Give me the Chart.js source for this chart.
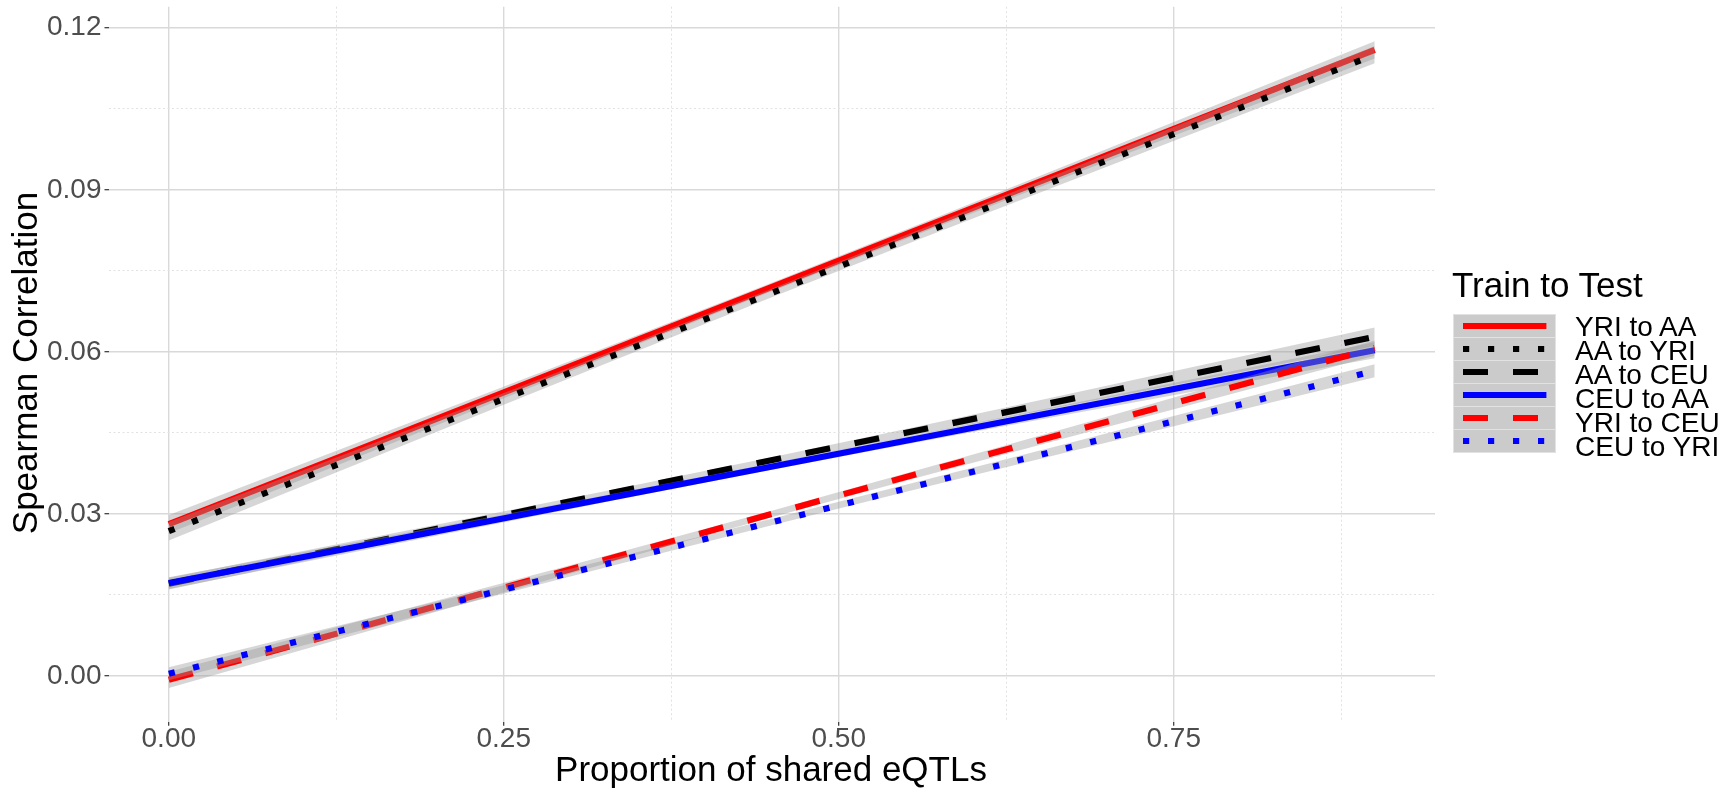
<!DOCTYPE html>
<html><head><meta charset="utf-8">
<script src="https://cdn.jsdelivr.net/npm/chart.js@4.4.1/dist/chart.umd.min.js"></script>
<style>
html,body{margin:0;padding:0;background:#fff;}
#wrap{position:relative;width:1726px;height:788px;overflow:hidden;font-family:"Liberation Sans",Arial,Helvetica,sans-serif;}
#c{position:absolute;left:0;top:0;}
.ttl{position:absolute;font-size:35px;line-height:40px;height:40px;white-space:nowrap;color:#000;}
#xt{left:471px;width:600px;top:749px;text-align:center;}
#yt{left:-225px;width:500px;top:343px;text-align:center;transform:rotate(-90deg);}
#lt{left:1452px;top:265px;}
#keys{position:absolute;left:1453px;top:315px;width:103px;}
.key{width:103px;height:24px;background:#cbcbcb;box-sizing:border-box;border:1px solid #e2e2e2;margin-top:-1px;}
.key svg{display:block;margin:-1px 0 0 -1px;}
#labs{position:absolute;left:1575px;top:315px;font-size:28px;line-height:24px;color:#000;}
#labs div{height:24px;white-space:nowrap;}
</style>
</head><body>
<div id="wrap">
<canvas id="c" width="1726" height="788"></canvas>
<div class="ttl" id="xt">Proportion of shared eQTLs</div>
<div class="ttl" id="yt">Spearman Correlation</div>
<div class="ttl" id="lt">Train to Test</div>
<div id="keys"></div>
<div id="labs"></div>
</div>
<script>
// ---- data ----
const seriesNames = ["YRI to AA", "AA to YRI", "AA to CEU", "CEU to AA", "YRI to CEU", "CEU to YRI"];
const lineX = [0, 0.9];
const bandX = [0, 0.45, 0.9];
const yriToAA  = [0.0281, 0.1159];
const aaToYRI  = [0.0268, 0.1150];
const aaToCEU  = [0.0171, 0.0628];
const ceuToAA  = [0.0172, 0.0603];
const yriToCEU = [-0.0007, 0.0607];
const ceuToYRI = [0.0004, 0.0565];
// confidence bands (lower / upper) at bandX
const yriToAALow   = [0.0264, 0.0712, 0.1143];
const yriToAAHigh  = [0.0298, 0.0728, 0.1175];
const aaToYRILow   = [0.0251, 0.0701, 0.1134];
const aaToYRIHigh  = [0.0285, 0.0717, 0.1166];
const aaToCEULow   = [0.0160, 0.0393, 0.0611];
const aaToCEUHigh  = [0.0182, 0.0405, 0.0645];
const ceuToAALow   = [0.0161, 0.0382, 0.0588];
const ceuToAAHigh  = [0.0183, 0.0394, 0.0618];
const yriToCEULow  = [-0.0022, 0.0294, 0.0593];
const yriToCEUHigh = [0.0008, 0.0306, 0.0621];
const ceuToYRILow  = [-0.0008, 0.0279, 0.0553];
const ceuToYRIHigh = [0.0016, 0.0291, 0.0577];
// ticks
const xTicks = [0, 0.125, 0.25, 0.375, 0.5, 0.625, 0.75, 0.875];
const xTickLabels = ["0.00", "", "0.25", "", "0.50", "", "0.75", ""];
const yTicks = [0, 0.015, 0.03, 0.045, 0.06, 0.075, 0.09, 0.105, 0.12];
const yTickLabels = ["0.00", "", "0.03", "", "0.06", "", "0.09", "", "0.12"];
const xRange = [-0.045, 0.945];
const yRange = [-0.00846, 0.12389];

// ---- styles ----
const seriesValues = [yriToAA, aaToYRI, aaToCEU, ceuToAA, yriToCEU, ceuToYRI];
const seriesLow = [yriToAALow, aaToYRILow, aaToCEULow, ceuToAALow, yriToCEULow, ceuToYRILow];
const seriesHigh = [yriToAAHigh, aaToYRIHigh, aaToCEUHigh, ceuToAAHigh, yriToCEUHigh, ceuToYRIHigh];
const seriesColors = ["#ff0000", "#000000", "#000000", "#0000ff", "#ff0000", "#0000ff"];
const LW = 6.2;
const DASHED = [25, 25];
const DOTTED = [6.2, 18.8];
const seriesDash = [[], DOTTED, DASHED, [], DASHED, DOTTED];
const ribbon = "rgba(153,153,153,0.4)";
const FONT = '"Liberation Sans", Arial, Helvetica, sans-serif';

const datasets = [];
seriesNames.forEach((name, i) => {
  datasets.push({
    label: name + " low", data: bandX.map((x, k) => ({x, y: seriesLow[i][k]})),
    borderWidth: 0, pointRadius: 0, fill: false, cubicInterpolationMode: 'monotone',
    backgroundColor: ribbon, borderColor: 'rgba(0,0,0,0)'
  });
  datasets.push({
    label: name + " high", data: bandX.map((x, k) => ({x, y: seriesHigh[i][k]})),
    borderWidth: 0, pointRadius: 0, fill: '-1', cubicInterpolationMode: 'monotone',
    backgroundColor: ribbon, borderColor: 'rgba(0,0,0,0)'
  });
  datasets.push({
    label: name, data: lineX.map((x, k) => ({x, y: seriesValues[i][k]})),
    borderWidth: LW, pointRadius: 0, fill: false, borderColor: seriesColors[i],
    borderDash: seriesDash[i], borderCapStyle: 'butt', tension: 0
  });
});
datasets.forEach((d, j) => { d.order = 1000 - j; });

function gridFor(labels) {
  const major = ctx => ctx.index === undefined || labels[ctx.index] !== "";
  return {
    grid: {
      color: ctx => major(ctx) ? '#d9d9d9' : '#e2e2e2',
      lineWidth: ctx => major(ctx) ? 1.4 : 1,
      drawTicks: true, tickLength: 4,
      tickColor: ctx => major(ctx) ? '#333333' : 'rgba(0,0,0,0)',
      tickWidth: 1.2
    },
    border: { display: false, dash: ctx => major(ctx) ? [] : [2, 2.5] }
  };
}

const gx = gridFor(xTickLabels), gy = gridFor(yTickLabels);

new Chart(document.getElementById('c'), {
  type: 'line',
  data: { datasets },
  options: {
    responsive: false, animation: false, devicePixelRatio: 1,
    layout: { padding: { left: 0, top: 6.7, right: 291, bottom: 0 } },
    plugins: { legend: { display: false }, tooltip: { enabled: false } },
    elements: { line: { borderJoinStyle: 'miter' } },
    scales: {
      x: {
        type: 'linear', min: xRange[0], max: xRange[1],
        afterBuildTicks: s => { s.ticks = xTicks.map(v => ({value: v})); },
        afterFit: s => { s.height = 66.3; s.paddingLeft = 0; s.paddingRight = 0; },
        ticks: { autoSkip: false, maxRotation: 0, padding: 0, color: '#4d4d4d',
                 font: { family: FONT, size: 28, lineHeight: 1 },
                 callback: (v, i) => xTickLabels[i] },
        grid: gx.grid, border: gx.border
      },
      y: {
        type: 'linear', min: yRange[0], max: yRange[1],
        afterBuildTicks: s => { s.ticks = yTicks.map(v => ({value: v})); },
        afterFit: s => { s.width = 108.5; s.paddingTop = 0; s.paddingBottom = 0; },
        ticks: { autoSkip: false, padding: 3, color: '#4d4d4d',
                 font: { family: FONT, size: 28, lineHeight: 1 },
                 callback: (v, i) => yTickLabels[i] },
        grid: gy.grid, border: gy.border
      }
    }
  }
});

// ---- legend (HTML) ----
const keys = document.getElementById('keys');
const labs = document.getElementById('labs');
seriesNames.forEach((name, i) => {
  const k = document.createElement('div');
  k.className = 'key';
  const dash = seriesDash[i].length ? seriesDash[i].join(' ') : 'none';
  k.innerHTML = '<svg width="103" height="24"><line x1="10" y1="12" x2="93.4" y2="12" stroke="' +
    seriesColors[i] + '" stroke-width="' + LW + '" stroke-dasharray="' + dash + '"/></svg>';
  keys.appendChild(k);
  const l = document.createElement('div');
  l.textContent = name;
  labs.appendChild(l);
});
</script>
</body></html>
